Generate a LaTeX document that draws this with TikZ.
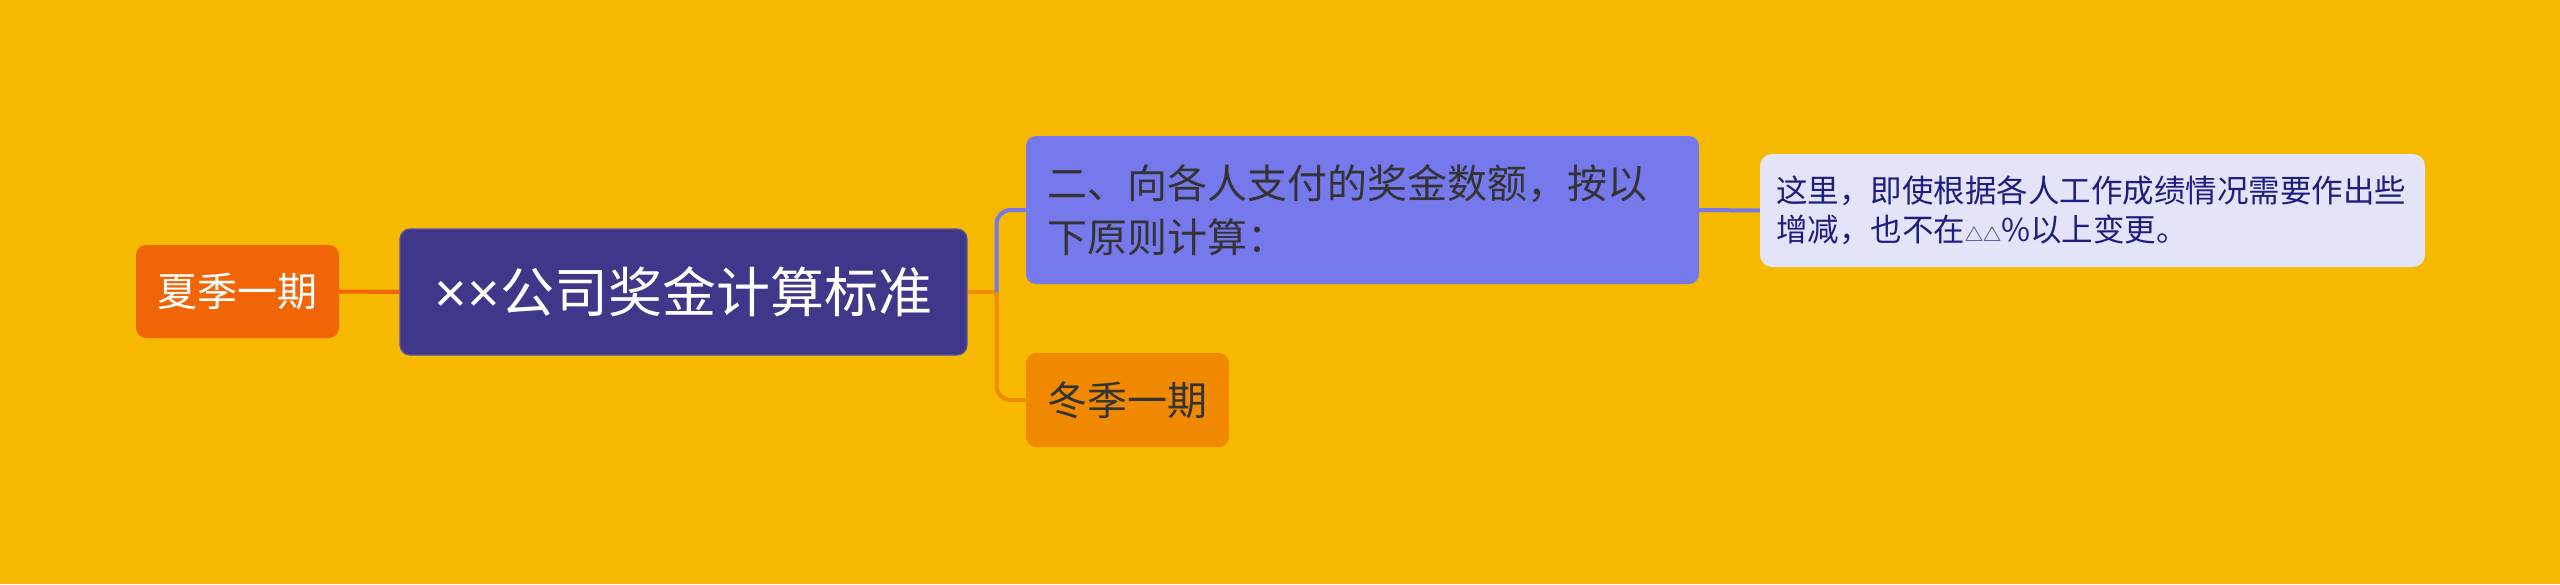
\documentclass[tikz,border=0pt]{standalone}
\usepackage{fontspec}
\setmainfont{Noto Sans CJK SC}
\newfontfamily\cjk{Noto Sans CJK SC}
\newfontfamily\latinsans{Liberation Sans}
\usetikzlibrary{calc}
\definecolor{bg}{HTML}{F6B900}
\definecolor{rootfill}{HTML}{3E378A}
\definecolor{rootdraw}{HTML}{5A55A0}
\definecolor{summerfill}{HTML}{F26507}
\definecolor{bluefill}{HTML}{7579EB}
\definecolor{winterfill}{HTML}{F08800}
\definecolor{notefill}{HTML}{E4E4F8}
\definecolor{darktext}{HTML}{333333}
\definecolor{notetext}{HTML}{1E1E80}
\definecolor{orangeline}{HTML}{F08A00}
\definecolor{summerline}{HTML}{F26507}
\begin{document}
\begin{tikzpicture}[x=1pt,y=-1pt,
  box/.style={rounded corners=10pt, inner sep=0pt, align=center, font=\cjk},
  conn/.style={line width=4pt}
]
\fill[bg] (0,0) rectangle (2560,584);
\useasboundingbox (0,0) rectangle (2560,584);
\node[box, fill=rootfill, draw=rootdraw, line width=1.2pt, minimum width=567pt, minimum height=126pt, text=white, font=\cjk\fontsize{54pt}{62pt}\selectfont] (root) at (683.5,292) {{\latinsans\fontsize{56pt}{62pt}\selectfont ××}公司奖金计算标准};
\node[box, fill=summerfill, minimum width=203pt, minimum height=93pt, text=white, font=\cjk\fontsize{40pt}{48pt}\selectfont] (summer) at (237.5,291.5) {夏季一期};
\node[box, fill=bluefill, minimum width=673pt, minimum height=148pt, text=darktext, align=left, text width=631pt, font=\cjk\fontsize{40pt}{54pt}\selectfont] (blue) at (1362.5,210) {二、向各人支付的奖金数额，按以\\下原则计算：};
\node[box, fill=winterfill, minimum width=203pt, minimum height=94pt, text=darktext, font=\cjk\fontsize{40pt}{48pt}\selectfont] (winter) at (1127.5,400) {冬季一期};
\node[box, rounded corners=12pt, fill=notefill, minimum width=665pt, minimum height=113pt, text=notetext, align=left, text width=633pt, font=\cjk\fontsize{31.5pt}{39pt}\selectfont] (note) at (2092.5,210.5) {这里，即使根据各人工作成绩情况需要作出些\\增减，也不在{\fontsize{18pt}{20pt}\selectfont △△}\%以上变更。};
\draw[conn, summerline] (summer.east) -- (root.west);
\coordinate (fork) at ($(root.east)+(29pt,0)$);
\draw[conn, orangeline] (root.east) -- (fork);
\draw[conn, orangeline, rounded corners=14pt] (fork) |- (winter.west);
\draw[conn, bluefill, rounded corners=14pt] (fork) |- (blue.west);
\draw[conn, bluefill] (blue.east) -- (note.west);
\end{tikzpicture}
\end{document}
